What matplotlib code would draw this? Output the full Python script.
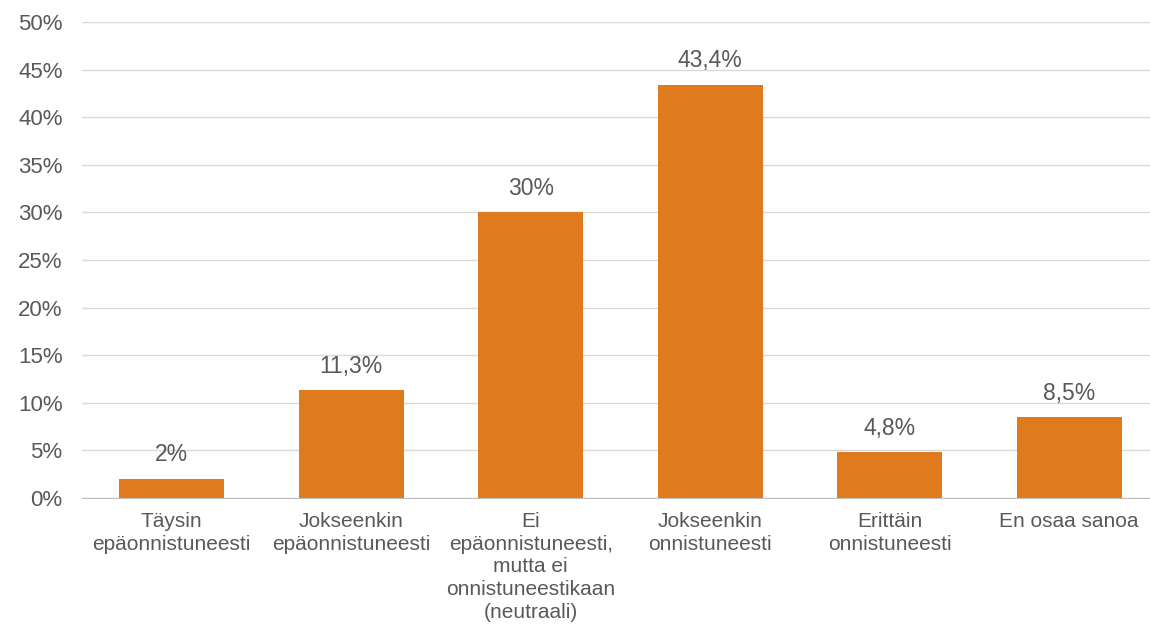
import matplotlib
matplotlib.use('Agg')
import matplotlib.pyplot as plt
from matplotlib.ticker import FuncFormatter

plt.rcParams['font.family'] = ['Liberation Sans', 'DejaVu Sans']

categories = [
  'Täysin\nepäonnistuneesti',
  'Jokseenkin\nepäonnistuneesti',
  'Ei\nepäonnistuneesti,\nmutta ei\nonnistuneestikaan\n(neutraali)',
  'Jokseenkin\nonnistuneesti',
  'Erittäin\nonnistuneesti',
  'En osaa sanoa',
]
values = [2, 11.3, 30, 43.4, 4.8, 8.5]
yticks = [0, 5, 10, 15, 20, 25, 30, 35, 40, 45, 50]

bar_color = '#E07A1F'
grid_color = '#D9D9D9'
text_color = '#595959'

fig = plt.figure(figsize=(11.5, 6.31), dpi=100)
ax = fig.add_axes([82/1150, 1-498/631, 1-82/1150, (498-22)/631])

x = list(range(len(values)))
ax.bar(x, values, width=0.585, color=bar_color, zorder=3)

for xi, v in zip(x, values):
  lab = f'{v:g}'.replace('.', ',') + '%'
  ax.annotate(lab, (xi, v), xytext=(0, 9), textcoords='offset points',
              ha='center', va='bottom', fontsize=16.5, color=text_color)

ax.set_xlim(-0.5, 5.45)
ax.set_ylim(0, 50)
ax.set_yticks(yticks)
ax.yaxis.set_major_formatter(FuncFormatter(lambda v, p: f'{v:g}%'))
ax.set_xticks(x)
ax.set_xticklabels(categories, fontsize=15, color=text_color, linespacing=1.25)
ax.tick_params(axis='y', labelsize=16, labelcolor=text_color, length=0, pad=14)
ax.tick_params(axis='x', length=0, pad=10)

ax.grid(axis='y', color=grid_color, lw=1, zorder=0)
for s in ['top', 'right', 'left']:
  ax.spines[s].set_visible(False)
ax.spines['bottom'].set_color('#BFBFBF')
ax.spines['bottom'].set_zorder(4)

fig.savefig('out.png', dpi=100)
